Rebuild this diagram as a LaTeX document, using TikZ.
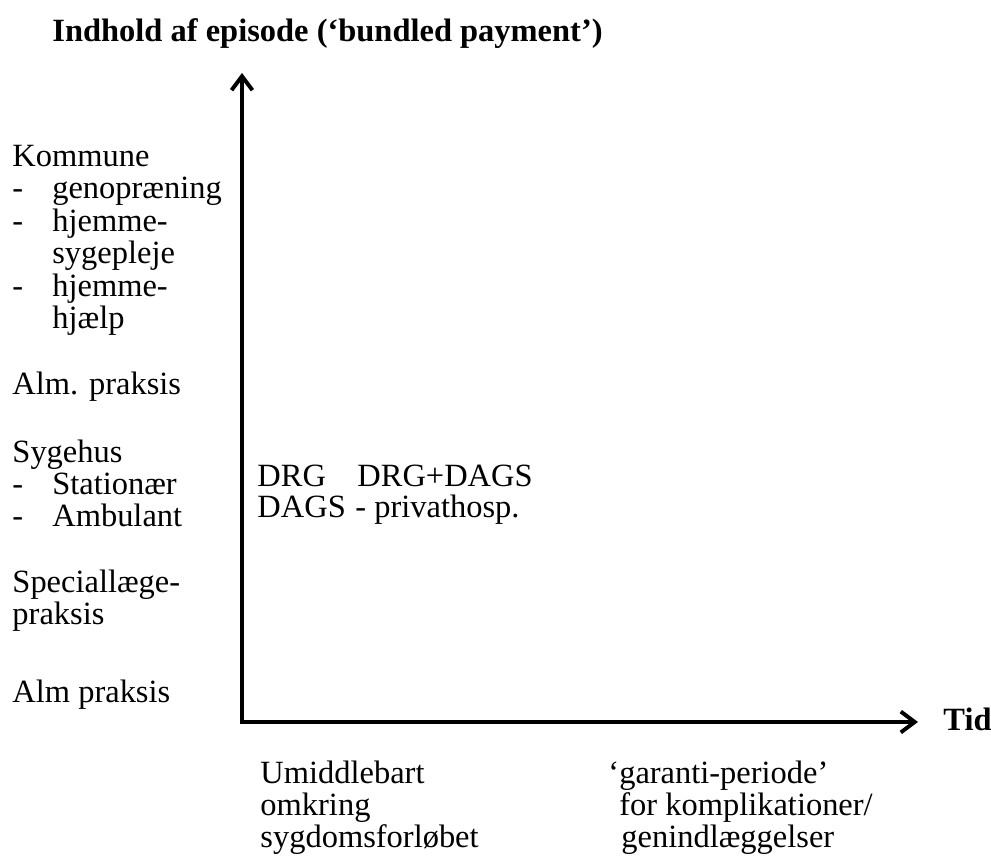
\documentclass[tikz,border=0pt]{standalone}
\usepackage{fontspec}
\setmainfont{Liberation Serif}
\usetikzlibrary{arrows.meta,positioning}

\newcommand{\dashitem}[1]{\makebox[17.2pt][l]{-}#1}
\newcommand{\hangline}[1]{\hspace*{17.2pt}#1}

\begin{document}
\begin{tikzpicture}[x=0.43125pt,y=-0.43125pt,
  lbl/.style={inner sep=0pt,font=\fontsize{14}{14}\selectfont,align=left,anchor=base west},
  bold/.style={lbl,font=\fontsize{14}{14}\selectfont\bfseries},
  axisline/.style={line width=1.7pt,{Straight Barb[length=6pt,width=9pt]}-{Straight Barb[length=6pt,width=9pt]}}]
  \useasboundingbox (0,0) rectangle (991,860);
  % Title and axes
  \node[bold] (title) at (52,42) {Indhold af episode (‘bundled payment’)};
  \coordinate (origin) at (242,722);
  \coordinate (ytop) at (242,73);
  \coordinate (xend) at (918,722);
  \draw[axisline,line join=miter] (ytop) -- (origin) -- (xend);
  \node[bold] (tid) at (943,731) {Tid};
  % Providers on the y-axis (base = last line)
  \node[lbl] (kommune) at (12,328.5) {Kommune\\
    \dashitem{genopræning}\\
    \dashitem{hjemme-}\\
    \hangline{sygepleje}\\
    \dashitem{hjemme-}\\
    \hangline{hjælp}};
  \node[lbl] (almp1) at (12,395) {Alm. praksis};
  \node[lbl] (sygehus) at (12,527) {Sygehus\\
    \dashitem{Stationær}\\
    \dashitem{Ambulant}};
  \node[lbl] (special) at (12,625) {Speciallæge-\\praksis};
  \node[lbl] (almp2) at (12,703) {Alm praksis};
  % Payment schemes
  \node[lbl] (drg) at (257,487) {DRG};
  \node[lbl] (drgdags) at (357,487) {DRG+DAGS};
  \node[lbl] (dags) at (257,518) {DAGS};
  \node[lbl] (privat) at (355,518) {- privathosp.};
  % Periods on the x-axis
  \node[lbl] (umid) at (260,848) {Umiddlebart\\omkring\\sygdomsforløbet};
  \node[lbl] (garanti) at (608,848) {‘garanti-periode’\\
    \hspace*{4.7pt}for komplikationer/\\
    \hspace*{5.6pt}genindlæggelser};
\end{tikzpicture}
\end{document}
